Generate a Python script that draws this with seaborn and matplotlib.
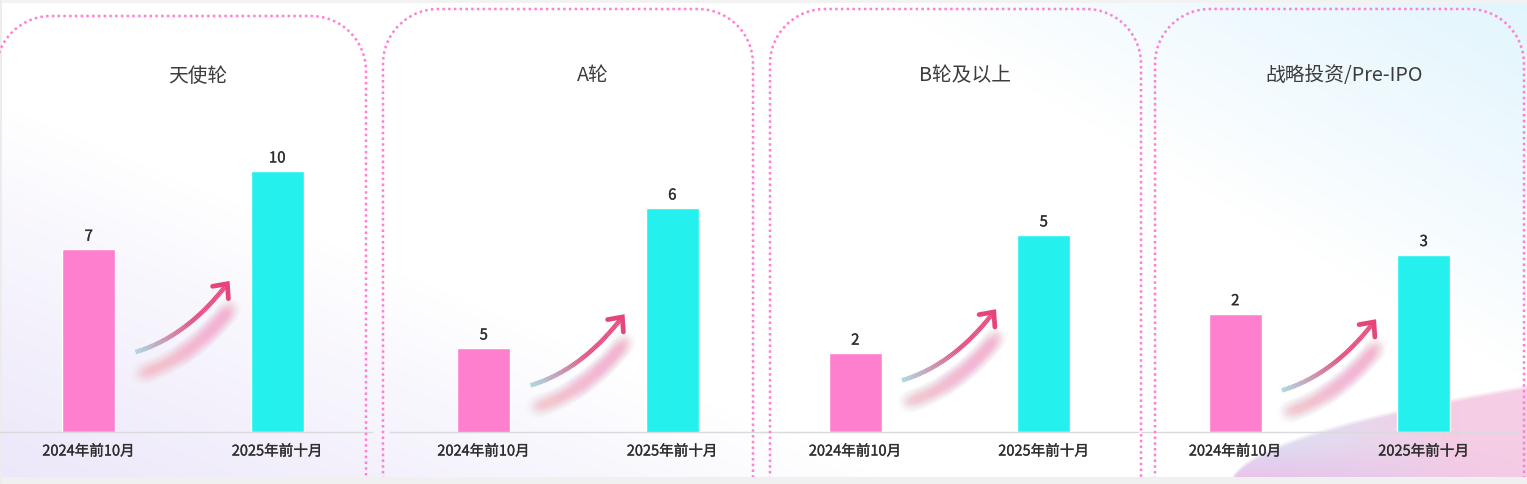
import numpy as np
import pandas as pd
import matplotlib
matplotlib.use("Agg")
import matplotlib.pyplot as plt
import matplotlib.patheffects as pe
import seaborn as sns
from matplotlib.collections import LineCollection
from matplotlib.colors import to_rgb

# data
panel_titles = ["天使轮", "A轮", "B轮及以上", "战略投资/Pre-IPO"]
periods = ["2024年前10月", "2025年前十月"]
counts_2024 = [7, 5, 2, 2]
counts_2025 = [10, 6, 5, 3]

bar_colors = ["#ff7fcf", "#24f0ee"]

W, H = 1527, 485
sns.set_theme(style="white")
plt.rcParams["font.family"] = ["Noto Sans CJK SC", "DejaVu Sans"]

fig = plt.figure(figsize=(W / 100, H / 100), dpi=100)


def blend(img, color, w):
    c = np.array(to_rgb(color))
    return img * (1 - w[..., None]) + c * w[..., None]


# soft page background
yy, xx = np.mgrid[0:H, 0:W].astype(float)
bg = np.ones((H, W, 3))
bg = blend(bg, "#ece7fa", np.clip(1 - (xx / 900 + (H - yy) / 380), 0, 1) ** 0.9)
bg = blend(bg, "#e2f5fd", np.clip(1 - ((W - xx) / 650 + yy / 380), 0, 1) ** 0.9)
wave_top = 485 - 100 * np.sqrt(np.clip((xx - 1230) / 297, 0, None))
w_wave = np.clip((yy - wave_top) / 5, 0, 1) * (xx > 1230)
wave_col = np.clip((xx - 1260) / 200, 0, 1)
wave = blend(np.ones((H, W, 3)) * np.array(to_rgb("#dae2f4")), "#f5cde4", wave_col)
wave = blend(wave, "#e9c3ea", np.clip((yy - 440) / 40, 0, 1) * np.clip(1 - (xx - 1300) / 250, 0, 1))
bg = bg * (1 - w_wave[..., None]) + wave * w_wave[..., None]
bg[:4, :] = to_rgb("#f2f2f2")
bg[478:, :] = to_rgb("#f0f0f0")
bg[:, :2] = to_rgb("#ececec")

ax_bg = fig.add_axes([0, 0, 1, 1], zorder=0)
ax_bg.imshow(bg, extent=(0, W, H, 0), aspect="auto")
ax_bg.set_axis_off()

# panel layout (pixels)
ax_lefts = [-5.5, 389.5, 761, 1141]
ax_width = 377
base_y = 433
ax_height = 333
y_limits = [(0, 12.76), (4.4, 6.78), (0, 8.45), (0, 5.63)]
arrow_frac = [0.24, 0.14, 0.155, 0.125]
box_spans = [(-4, 366, 17), (383, 753, 10), (770, 1141, 10), (1155, 1524, 10)]

ov = fig.add_axes([0, 7 / H, 1, 478 / H], zorder=5)
ov.set_xlim(0, W)
ov.set_ylim(478, 0)
ov.set_axis_off()
ov.patch.set_alpha(0)

bolden = [pe.withStroke(linewidth=0.2, foreground="#2e2e2e")]


def draw_box(x0, x1, top, bottom=505, r=55):
    a = np.linspace(np.pi, 1.5 * np.pi, 30)
    b = np.linspace(1.5 * np.pi, 2 * np.pi, 30)
    xs = np.concatenate([[x0], x0 + r + r * np.cos(a), x1 - r + r * np.cos(b), [x1]])
    ys = np.concatenate([[bottom], top + r + r * np.sin(a), top + r + r * np.sin(b), [bottom]])
    ov.plot(xs, ys, color="#ff7fd4", lw=1.8, linestyle=(0, (1.0, 1.3)),
            dash_capstyle="butt")


def draw_arrow(x0, y0):
    x1, y1 = x0 + 90, y0 - 66
    cx, cy = x0 + 50, y0 - 15
    t = np.linspace(0, 1, 80)
    px = (1 - t) ** 2 * x0 + 2 * (1 - t) * t * cx + t ** 2 * x1
    py = (1 - t) ** 2 * y0 + 2 * (1 - t) * t * cy + t ** 2 * y1
    # blurred shadow
    sx, sy = px + 5, py + 22
    seg_s = np.stack([np.column_stack([sx[:-1], sy[:-1]]), np.column_stack([sx[1:], sy[1:]])], axis=1)
    for lw, a in [(16, 0.016), (12, 0.02), (8, 0.028), (5, 0.034)]:
        cols = np.tile(np.array(to_rgb("#f2a3c3") + (a,)), (len(seg_s), 1))
        cols[:, 3] = a * (0.6 + 0.7 * t[:-1])
        ov.add_collection(LineCollection(seg_s, colors=cols, linewidths=lw, capstyle="round"))
    # gradient stroke
    seg = np.stack([np.column_stack([px[:-1], py[:-1]]), np.column_stack([px[1:], py[1:]])], axis=1)
    mix = np.clip(t[:-1] / 0.6, 0, 1)[:, None]
    c0, c1 = np.array(to_rgb("#a3d6de")), np.array(to_rgb("#e6457a"))
    ov.add_collection(LineCollection(seg, colors=c0 * (1 - mix) + c1 * mix, linewidths=3.3,
                                     capstyle="butt"))
    # arrow head
    d = np.array([x1 - cx, y1 - cy])
    d = d / np.linalg.norm(d)
    tip = np.array([x1, y1]) + d * 3
    arms = []
    for ang in (np.radians(42), -np.radians(42)):
        rot = np.array([[np.cos(ang), -np.sin(ang)], [np.sin(ang), np.cos(ang)]])
        arms.append(tip - 15 * rot @ d)
    ov.plot([arms[0][0], tip[0], arms[1][0]], [arms[0][1], tip[1], arms[1][1]],
            color="#e6457a", lw=3.4, solid_capstyle="round", solid_joinstyle="miter")


for i, title in enumerate(panel_titles):
    df = pd.DataFrame({"period": periods, "count": [counts_2024[i], counts_2025[i]]})
    left = ax_lefts[i]
    ax = fig.add_axes([left / W, (H - base_y) / H, ax_width / W, ax_height / H], zorder=2)
    ax.set_facecolor("none")
    sns.barplot(data=df, x="period", y="count", hue="period", palette=bar_colors,
                width=0.28, dodge=False, legend=False, saturation=1, ax=ax)
    ax.set_xlim(-0.5, 1.5)
    ax.set_ylim(*y_limits[i])
    for c in ax.containers:
        for t in ax.bar_label(c, padding=4, fontsize=10.8, color="#2e2e2e"):
            t.set_path_effects(bolden)
    for s in ["top", "left", "right"]:
        ax.spines[s].set_visible(False)
    ax.spines["bottom"].set_color("#d9d9de")
    ax.spines["bottom"].set_linewidth(1)
    ax.set_yticks([])
    ax.set_xlabel("")
    ax.set_ylabel("")
    ax.tick_params(axis="x", length=0, pad=9, labelsize=10.5, labelcolor="#2e2e2e")
    for lab in ax.get_xticklabels():
        lab.set_path_effects(bolden)
    ax.text(0.54, (base_y - 76) / ax_height, title, transform=ax.transAxes,
            ha="center", va="center", fontsize=14.2, color="#3c3c3c")

    draw_arrow(left + 141, base_y - arrow_frac[i] * ax_height)

    bx0, bx1, btop = box_spans[i]
    draw_box(bx0, bx1, btop)

fig.savefig("out.png", dpi=100)
